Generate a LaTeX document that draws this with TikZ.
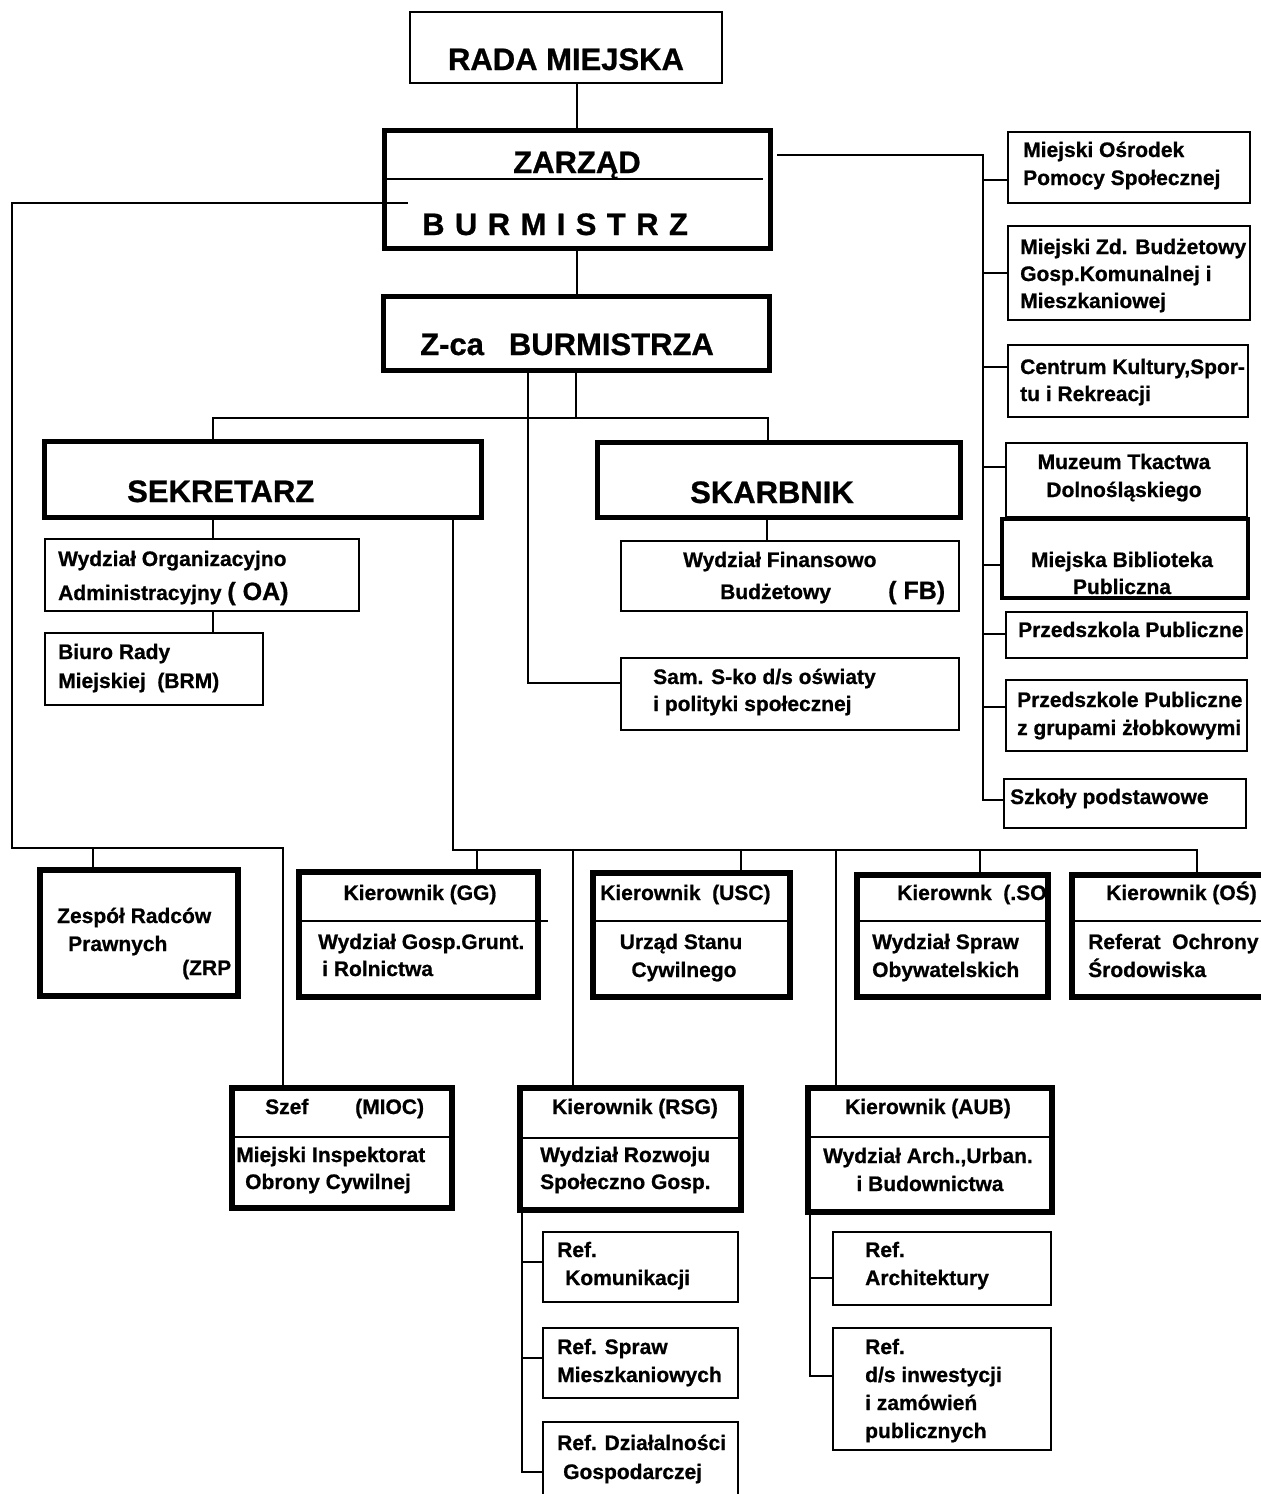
\documentclass[tikz,border=0pt]{standalone}
\usepackage{fontspec}
\setmainfont{Liberation Sans}[BoldFeatures={FakeBold=0.8}]
\usetikzlibrary{calc}
\tikzset{
  bxs/.style={draw, rectangle, inner sep=0pt, outer sep=0pt, anchor=north west},
  bthin/.style={bxs, line width=1.5pt},
  bmed/.style={bxs, line width=2.6pt},
  bmedp/.style={bxs, line width=3.6pt},
  bthick/.style={bxs, line width=5pt},
  bheavy/.style={bxs, line width=6.5pt},
  conn/.style={line width=1.4pt},
  divl/.style={line width=1.3pt},
  tx/.style={inner sep=0pt, anchor=base west, font=\fontsize{21}{25}\selectfont\bfseries},
  txc/.style={tx, anchor=base},
  bigt/.style={inner sep=0pt, anchor=base west, font=\fontsize{31}{36}\selectfont\bfseries},
  midt/.style={tx, font=\fontsize{25}{30}\selectfont\bfseries},
}
\newcommand\mkbox[6]{\node[#2, minimum width={#5-#3}, minimum height={#6-#4}] (#1) at (#3,#4) {};}
\begin{document}
\begin{tikzpicture}[x=1pt,y=-1pt]
\useasboundingbox (0,0) rectangle (1261,1494);
% ---------- boxes
\mkbox{rada}{bthin}{410}{12}{722}{83}
\mkbox{zarzad}{bthick}{384}{130}{770}{248}
\mkbox{zca}{bthick}{383}{296}{769}{370}
\mkbox{sek}{bthick}{44}{441}{481}{517}
\mkbox{skarb}{bthick}{597}{442}{960}{517}
\mkbox{oa}{bmed}{45}{539}{359}{611}
\mkbox{brm}{bmed}{45}{633}{263}{705}
\mkbox{fb}{bmed}{621}{541}{959}{611}
\mkbox{sam}{bmed}{621}{658}{959}{730}
\mkbox{mops}{bmed}{1008}{132}{1250}{203}
\mkbox{mzb}{bmed}{1008}{226}{1250}{320}
\mkbox{ck}{bmed}{1008}{345}{1248}{417}
\mkbox{muz}{bmed}{1006}{443}{1247}{517}
\mkbox{bib}{bmedp}{1002}{519}{1248}{598}
\mkbox{pp}{bmed}{1006}{612}{1247}{658}
\mkbox{ppz}{bmed}{1006}{680}{1247}{751}
\mkbox{szk}{bmed}{1004}{779}{1246}{828}
\mkbox{zrp}{bheavy}{40}{870}{238}{996}
\mkbox{gg}{bheavy}{299}{872}{538}{997}
\mkbox{usc}{bheavy}{593}{873}{790}{997}
\mkbox{so}{bheavy}{857}{875}{1048}{997}
\mkbox{os}{bheavy}{1072}{875}{1272}{997}
\mkbox{mioc}{bheavy}{232}{1088}{452}{1208}
\mkbox{rsg}{bheavy}{520}{1088}{741}{1210}
\mkbox{aub}{bheavy}{808}{1088}{1052}{1212}
\mkbox{kom}{bmed}{543}{1232}{738}{1302}
\mkbox{mie}{bmed}{543}{1328}{738}{1398}
\mkbox{dzg}{bmed}{543}{1422}{738}{1504}
\mkbox{arch}{bmed}{833}{1232}{1051}{1305}
\mkbox{inw}{bmed}{833}{1328}{1051}{1450}
% ---------- dividers
\draw[divl] ($(zarzad.north west)+(0,49)$) -- ($(zarzad.north east)+(-7,49)$);
\draw[divl] ($(gg.north west)+(0,49)$) -- ($(gg.north east)+(10,49)$);
\draw[divl] ($(usc.north west)+(0,48)$) -- ($(usc.north east)+(0,48)$);
\draw[divl] ($(so.north west)+(0,46)$) -- ($(so.north east)+(0,46)$);
\draw[divl] ($(os.north west)+(0,46)$) -- ($(os.north east)+(0,46)$);
\draw[divl] ($(mioc.north west)+(0,49)$) -- ($(mioc.north east)+(0,49)$);
\draw[divl] ($(rsg.north west)+(0,50)$) -- ($(rsg.north east)+(0,50)$);
\draw[divl] ($(aub.north west)+(0,49)$) -- ($(aub.north east)+(0,49)$);
% ---------- connectors
\draw[conn] (rada.south -| zarzad.north) -- (zarzad.north);
\draw[conn] (zarzad.south) -- (zarzad.south |- zca.north);
% left long line
\draw[conn] ($(zarzad.north west)+(24,73)$) -| ($(zrp.north west)+(-28,-22)$) -| ($(mioc.north west)+(51,0)$);
\draw[conn] ($(zrp.north west)+(53,0)$) -- ++(0,-22);
% sekretarz bus to bottom row
\draw[conn] ($(sek.south west)+(409,0)$) |- ($(os.north west)+(125,-25)$) -- ($(os.north west)+(125,0)$);
\draw[conn] ($(gg.north west)+(178,0)$) -- ++(0,-22);
\draw[conn] ($(usc.north west)+(148,0)$) -- ++(0,-23);
\draw[conn] ($(so.north west)+(123,0)$) -- ++(0,-25);
\draw[conn] ($(rsg.north west)+(53,0)$) -- ++(0,-238);
\draw[conn] ($(aub.north west)+(28,0)$) -- ++(0,-238);
% z-ca to sekretarz / skarbnik
\draw[conn] (zca.south) -- ++(0,48);
\draw[conn] ($(sek.north west)+(169,0)$) |- ($(skarb.north west)+(171,-24)$) -- ($(skarb.north west)+(171,0)$);
\draw[conn] ($(sek.south west)+(169,0)$) -- ($(oa.north west)+(168,0)$);
\draw[conn] ($(oa.south west)+(168,0)$) -- ($(brm.north west)+(168,0)$);
\draw[conn] ($(skarb.south west)+(170,0)$) -- ($(fb.north west)+(146,0)$);
\draw[conn] ($(zca.south west)+(145,0)$) |- ($(sam.north west)+(0,25)$);
% right column
\draw[conn] ($(zarzad.north east)+(7,25)$) -| ($(szk.north west)+(-21,21)$) -- ($(szk.north west)+(0,21)$);
\draw[conn] ($(mops.north west)+(0,48)$) -- ++(-25,0);
\draw[conn] ($(mzb.north west)+(0,47)$) -- ++(-25,0);
\draw[conn] ($(ck.north west)+(0,22)$) -- ++(-25,0);
\draw[conn] ($(muz.north west)+(0,24)$) -- ++(-23,0);
\draw[conn] ($(bib.north west)+(0,46)$) -- ++(-19,0);
\draw[conn] ($(pp.north west)+(0,22)$) -- ++(-23,0);
\draw[conn] ($(ppz.north west)+(0,27)$) -- ++(-23,0);
% RSG subs
\draw[conn] ($(rsg.south west)+(2,0)$) |- ($(dzg.north west)+(0,50)$);
\draw[conn] ($(kom.north west)+(0,30)$) -- ++(-21,0);
\draw[conn] ($(mie.north west)+(0,30)$) -- ++(-21,0);
% AUB subs
\draw[conn] ($(aub.south west)+(2,0)$) |- ($(inw.north west)+(0,48)$);
\draw[conn] ($(arch.north west)+(0,46)$) -- ++(-23,0);
% ---------- texts
\node[bigt, anchor=base] (tRada) at (566,70) {RADA MIEJSKA};
\node[bigt, anchor=base] (tZarzad) at (577,173) {ZARZĄD};
\node[bigt] (tBurm) at (422,235) {\spaceskip=10.4pt\relax B U R M I S T R Z};
\node[bigt] (tZca) at (420,355) {Z-ca\hspace{25pt}BURMISTRZA};
\node[bigt] (tSek) at (127,502) {SEKRETARZ};
\node[bigt] (tSkarb) at (690,503) {SKARBNIK};
\node[tx] (tOa1) at (58,566) {Wydział Organizacyjno};
\node[tx] (tOa2) at (58,600) {Administracyjny {\fontsize{25}{30}\selectfont( OA)}};
\node[tx] (tBrm1) at (58,659) {Biuro Rady};
\node[tx] (tBrm2) at (58,688) {Miejskiej~ (BRM)};
\node[tx] (tFb1) at (683,567) {Wydział Finansowo};
\node[tx] (tFb2) at (720,599) {Budżetowy};
\node[midt] (tFb3) at (888,599) {( FB)};
\node[tx] (tSam1) at (653,684) {Sam. S-ko d/s oświaty};
\node[tx] (tSam2) at (653,711) {i polityki społecznej};
\node[tx] (tMops1) at (1023,157) {Miejski Ośrodek};
\node[tx] (tMops2) at (1023,185) {Pomocy Społecznej};
\node[tx] (tMzb1) at (1020,254) {Miejski Zd. Budżetowy};
\node[tx] (tMzb2) at (1020,281) {Gosp.Komunalnej i};
\node[tx] (tMzb3) at (1020,308) {Mieszkaniowej};
\node[tx] (tCk1) at (1020,374) {Centrum Kultury,Spor-};
\node[tx] (tCk2) at (1020,401) {tu i Rekreacji};
\node[txc] (tMuz1) at (1124,469) {Muzeum Tkactwa};
\node[txc] (tMuz2) at (1124,497) {Dolnośląskiego};
\node[txc] (tBib1) at (1122,567) {Miejska Biblioteka};
\node[txc] (tBib2) at (1122,594) {Publiczna};
\node[tx] (tPp) at (1018,637) {Przedszkola Publiczne};
\node[tx] (tPpz1) at (1017,707) {Przedszkole Publiczne};
\node[tx] (tPpz2) at (1017,735) {z grupami żłobkowymi};
\node[tx] (tSzk) at (1010,804) {Szkoły podstawowe};
\node[tx] (tZrp1) at (57,923) {Zespół Radców};
\node[tx] (tZrp2) at (68,951) {Prawnych};
\node[tx] (tZrp3) at (182,975) {(ZRP};
\node[txc] (tGg1) at (420,900) {Kierownik (GG)};
\node[tx] (tGg2) at (318,949) {Wydział Gosp.Grunt.};
\node[tx] (tGg3) at (322,976) {i Rolnictwa};
\node[tx] (tUsc1) at (600,900) {Kierownik~ (USC)};
\node[txc] (tUsc2) at (681,949) {Urząd Stanu};
\node[txc] (tUsc3) at (684,977) {Cywilnego};
\node[tx] (tSo1) at (897,900) {Kierownk~ (.SO};
\node[tx] (tSo2) at (872,949) {Wydział Spraw};
\node[tx] (tSo3) at (872,977) {Obywatelskich};
\node[tx] (tOs1) at (1106,900) {Kierownik (OŚ)};
\node[tx] (tOs2) at (1088,949) {Referat~ Ochrony};
\node[tx] (tOs3) at (1088,977) {Środowiska};
\node[tx] (tMioc1) at (265,1114) {Szef};
\node[tx] (tMioc2) at (355,1114) {(MIOC)};
\node[tx] (tMioc3) at (236,1162) {Miejski Inspektorat};
\node[tx] (tMioc4) at (245,1189) {Obrony Cywilnej};
\node[txc] (tRsg1) at (635,1114) {Kierownik (RSG)};
\node[tx] (tRsg2) at (540,1162) {Wydział Rozwoju};
\node[tx] (tRsg3) at (540,1189) {Społeczno Gosp.};
\node[txc] (tAub1) at (928,1114) {Kierownik (AUB)};
\node[txc] (tAub2) at (928,1163) {Wydział Arch.,Urban.};
\node[txc] (tAub3) at (930,1191) {i Budownictwa};
\node[tx] (tKom1) at (557,1257) {Ref.};
\node[tx] (tKom2) at (565,1285) {Komunikacji};
\node[tx] (tMie1) at (557,1354) {Ref. Spraw};
\node[tx] (tMie2) at (557,1382) {Mieszkaniowych};
\node[tx] (tDzg1) at (557,1450) {Ref. Działalności};
\node[tx] (tDzg2) at (563,1479) {Gospodarczej};
\node[tx] (tArch1) at (865,1257) {Ref.};
\node[tx] (tArch2) at (865,1285) {Architektury};
\node[tx] (tInw1) at (865,1354) {Ref.};
\node[tx] (tInw2) at (865,1382) {d/s inwestycji};
\node[tx] (tInw3) at (865,1410) {i zamówień};
\node[tx] (tInw4) at (865,1438) {publicznych};
\end{tikzpicture}
\end{document}
